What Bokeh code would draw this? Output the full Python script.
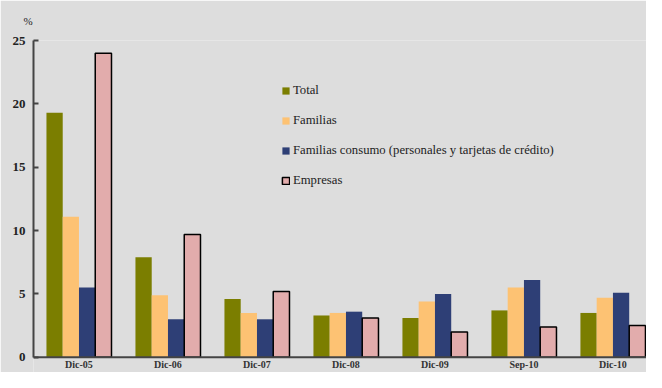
from bokeh.plotting import figure
from bokeh.models import Range1d, FixedTicker, Legend, LegendItem, Span, ColumnDataSource
from bokeh.embed import file_html
from bokeh.resources import INLINE
from bokeh.core.properties import value

# ---- data ----
categories = ["Dic-05", "Dic-06", "Dic-07", "Dic-08", "Dic-09", "Sep-10", "Dic-10"]
total = [19.3, 7.9, 4.6, 3.3, 3.1, 3.7, 3.5]
familias = [11.1, 4.9, 3.5, 3.5, 4.4, 5.5, 4.7]
consumo = [5.5, 3.0, 3.0, 3.6, 5.0, 6.1, 5.1]
empresas = [24.0, 9.7, 5.2, 3.1, 2.0, 2.4, 2.5]
series_names = ["Total", "Familias",
                "Familias consumo (personales y tarjetas de crédito)", "Empresas"]
y_ticks = [0, 5, 10, 15, 20, 25]

BG = "#dddddd"
colors = ["#7b7e00", "#fdc273", "#2e3f76", "#e2acac"]
SERIF = "Liberation Serif"

p = figure(width=646, height=372, output_backend="svg", toolbar_location=None,
           x_range=Range1d(-0.011, 6.877), y_range=Range1d(-1.2, 25),
           x_axis_location=None,
           min_border_left=33, min_border_right=0, min_border_top=40,
           min_border_bottom=0, title="%")
p.background_fill_color = BG
p.border_fill_color = BG
p.outline_line_color = None
p.xgrid.grid_line_color = None
p.ygrid.grid_line_color = None

p.title.text_font = SERIF
p.title.text_font_style = "normal"
p.title.text_font_size = "11px"
p.title.text_color = "#222222"
p.title.align = "left"
p.title.vertical_align = "top"
p.title.offset = -10
p.title.standoff = 24

w = 0.1827
offsets = [-1.5 * w, -0.5 * w, 0.5 * w, 1.5 * w]
all_series = [total, familias, consumo, empresas]
renderers = []
for k, vals in enumerate(all_series):
    xs = [i + 0.5 + offsets[k] for i in range(len(categories))]
    if k == 3:
        r = p.vbar(x=xs, top=vals, bottom=0, width=w, fill_color=colors[k],
                   line_color="black", line_width=1.5)
    else:
        r = p.vbar(x=xs, top=vals, bottom=0, width=w, fill_color=colors[k],
                   line_color=None)
    renderers.append(r)

# x axis line at zero and category labels
p.add_layout(Span(location=0, dimension="width", line_color="#444444", line_width=2))
lab_src = ColumnDataSource(dict(x=[i + 0.5 for i in range(len(categories))],
                                y=[0] * len(categories), text=categories))
p.text(x="x", y="y", text="text", source=lab_src, text_align="center",
       text_baseline="top", y_offset=2, text_font=value(SERIF),
       text_font_style="bold", text_font_size="10px", text_color="#333333")

# y axis
yax = p.yaxis[0]
yax.bounds = (0, 25)
yax.ticker = FixedTicker(ticks=y_ticks)
yax.major_tick_in = 5
yax.major_tick_out = 0
yax.minor_tick_line_color = None
yax.axis_line_color = "#444444"
yax.axis_line_width = 2
yax.major_tick_line_color = "#444444"
yax.major_tick_line_width = 2
yax.major_label_text_font = SERIF
yax.major_label_text_font_style = "bold"
yax.major_label_text_font_size = "13px"
yax.major_label_text_color = "#222222"
yax.major_label_standoff = 8

legend = Legend(items=[LegendItem(label=series_names[k], renderers=[renderers[k]])
                       for k in range(4)],
                location=(248, 184), orientation="vertical")
legend.background_fill_alpha = 0
legend.border_line_color = None
legend.glyph_width = 9
legend.glyph_height = 9
legend.label_height = 9
legend.label_standoff = 3
legend.spacing = 15
legend.padding = 0
legend.margin = 0
legend.label_text_font = SERIF
legend.label_text_font_size = "12.7px"
legend.label_text_color = "#222222"
p.add_layout(legend)

html = file_html(p, INLINE)
html = html.replace("<body>", '<body style="background:#dddddd">', 1)
open("out.html", "w").write(html)
